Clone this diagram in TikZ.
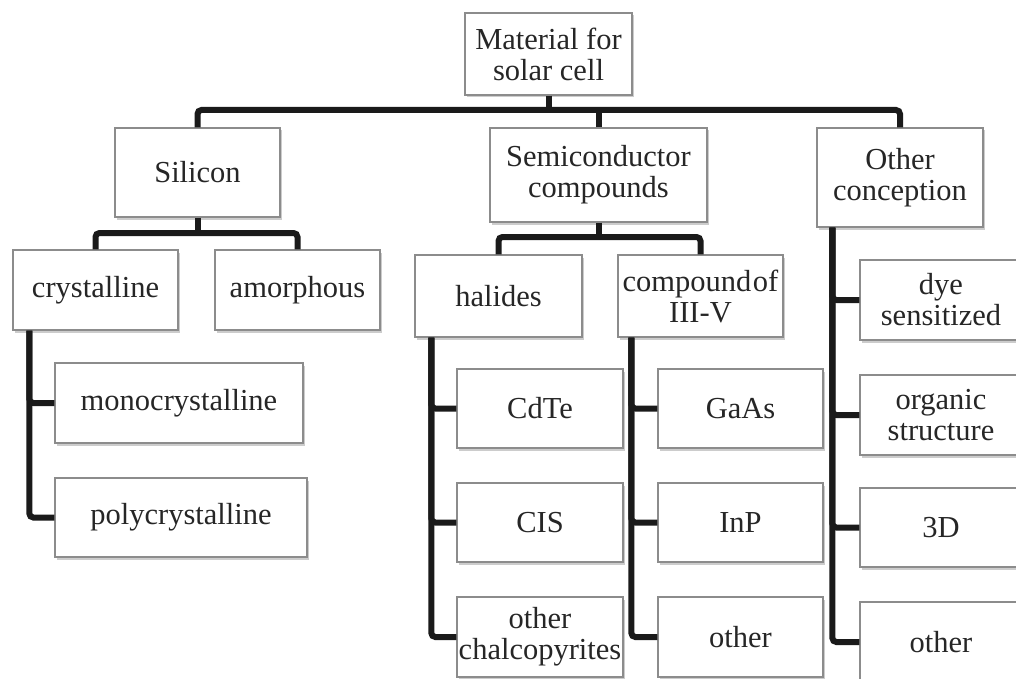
\documentclass[tikz,border=0pt]{standalone}
\usepackage{fontspec}
\setmainfont{Liberation Serif}
\usetikzlibrary{shadows}
\definecolor{boxline}{HTML}{8C8C8C}
\definecolor{txt}{HTML}{262626}
\definecolor{conncol}{HTML}{1A1A1A}
\tikzset{
  box/.style={draw=boxline, line width=1.3pt, fill=white, inner sep=0pt, align=center,
    text=txt, font=\fontsize{30.5}{31}\selectfont,
    drop shadow={shadow xshift=2pt, shadow yshift=-2.5pt, fill=black, opacity=0.2}},
  conn/.style={draw=conncol, line width=6pt, rounded corners=4pt},
}
\begin{document}
\begin{tikzpicture}[x=1pt,y=-1pt]
\useasboundingbox (0,0) rectangle (1016,679);
\fill[white] (0,0) rectangle (1016,679);
\clip (0,0) rectangle (1016,679);
% boxes
\node[box, minimum width=167pt, minimum height=82pt] (top) at (548.5,54) {Material for\\solar cell};
\node[box, minimum width=165pt, minimum height=89pt] (sil) at (197.5,172.5) {Silicon};
\node[box, minimum width=217pt, minimum height=94pt] (semi) at (598.5,175) {Semiconductor\\compounds};
\node[box, minimum width=166pt, minimum height=99pt] (oth) at (900,177.5) {Other\\conception};
\node[box, minimum width=165pt, minimum height=80pt] (crys) at (95.5,290) {crystalline};
\node[box, minimum width=165pt, minimum height=80pt] (amor) at (297.5,290) {amorphous};
\node[box, minimum width=167pt, minimum height=82pt] (hal) at (498.5,296) {halides};
\node[box, minimum width=165pt, minimum height=82pt] (comp) at (700.5,296) {compound\hspace{0.05em}of\\III-V};
\node[box, minimum width=248pt, minimum height=80pt] (mono) at (179,403) {monocrystalline};
\node[box, minimum width=252pt, minimum height=79pt] (poly) at (181,517.5) {polycrystalline};
\node[box, minimum width=166pt, minimum height=79pt] (cdte) at (540,408.5) {CdTe};
\node[box, minimum width=166pt, minimum height=79pt] (cis) at (540,522.5) {CIS};
\node[box, minimum width=166pt, minimum height=80pt] (och) at (540,637) {other\\chalcopyrites};
\node[box, minimum width=165pt, minimum height=79pt] (gaas) at (740.5,408.5) {GaAs};
\node[box, minimum width=165pt, minimum height=79pt] (inp) at (740.5,522.5) {InP};
\node[box, minimum width=165pt, minimum height=80pt] (oiii) at (740.5,637) {other};
\node[box, minimum width=162pt, minimum height=80pt] (dye) at (941,300) {dye\\sensitized};
\node[box, minimum width=162pt, minimum height=80pt] (org) at (941,415) {organic\\structure};
\node[box, minimum width=162pt, minimum height=79pt] (td) at (941,527.5) {3D};
\node[box, minimum width=162pt, minimum height=80pt] (oo) at (941,642) {other};
% connectors
\coordinate (bus) at (0,110);
\draw[conn] (top.south) -- (top.south |- bus);
\draw[conn] (sil.north) -- (sil.north |- bus) -- (oth.north |- bus) -- (oth.north);
\draw[conn] (semi.north) -- (semi.north |- bus);
\coordinate (sb) at (0,233);
\draw[conn] (sil.south) -- (sil.south |- sb);
\draw[conn] (crys.north) -- (crys.north |- sb) -- (amor.north |- sb) -- (amor.north);
\coordinate (cb) at (0,237);
\draw[conn] (semi.south) -- (semi.south |- cb);
\draw[conn] (hal.north) -- (hal.north |- cb) -- (comp.north |- cb) -- (comp.north);
\coordinate (c1) at ([xshift=17pt]crys.south west);
\draw[conn] (c1) |- (mono.west);
\draw[conn] (c1) |- (poly.west);
\coordinate (c2) at ([xshift=17pt]hal.south west);
\draw[conn] (c2) |- (cdte.west);
\draw[conn] (c2) |- (cis.west);
\draw[conn] (c2) |- (och.west);
\coordinate (c3) at ([xshift=14pt]comp.south west);
\draw[conn] (c3) |- (gaas.west);
\draw[conn] (c3) |- (inp.west);
\draw[conn] (c3) |- (oiii.west);
\coordinate (c4) at ([xshift=16pt]oth.south west);
\draw[conn] (c4) |- (dye.west);
\draw[conn] (c4) |- (org.west);
\draw[conn] (c4) |- (td.west);
\draw[conn] (c4) |- (oo.west);
\end{tikzpicture}
\end{document}
